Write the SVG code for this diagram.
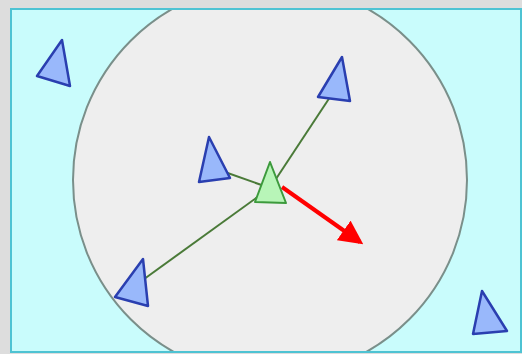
<svg xmlns="http://www.w3.org/2000/svg" width="522" height="354" viewBox="0 0 522 354">
<style>
.boid{fill:#99b8fb;stroke:#2a3fb0;stroke-width:2.5;stroke-linejoin:round}
.self{fill:#b8f5b8;stroke:#3c9a3c;stroke-width:2;stroke-linejoin:round}
.link{stroke:#4a7a38;stroke-width:2;fill:none}
</style>
<defs>
<marker id="ah" markerWidth="6" markerHeight="6" refX="5" refY="3" orient="auto" markerUnits="strokeWidth">
<path d="M0,0 L6,3 L0,6 z" fill="#ff0000"/>
</marker>
</defs>
<rect x="0" y="0" width="522" height="354" fill="#dddddd"/>
<rect x="11" y="9" width="510" height="343" fill="#c9fcfc" stroke="#4ec3d3" stroke-width="2"/>
<clipPath id="c"><rect x="12" y="10" width="508" height="341"/></clipPath>
<circle cx="270" cy="180" r="197" fill="#eeeeee" stroke="#7a8f8a" stroke-width="2" clip-path="url(#c)"/>
<g id="connectors">
<line class="link" x1="270" y1="188" x2="336" y2="88"/>
<line class="link" x1="270" y1="188" x2="222" y2="171"/>
<line class="link" x1="270" y1="188" x2="140" y2="282"/>
<line x1="282" y1="187" x2="360" y2="242" stroke="#ff0000" stroke-width="4" marker-end="url(#ah)"/>
</g>
<g id="boid1"><polygon class="boid" points="62,40 70,86 37,76"/></g>
<g id="boid2"><polygon class="boid" points="342,57 350,101 318,97"/></g>
<g id="boid3"><polygon class="boid" points="209,137 230,178 199,182"/></g>
<g id="boid4"><polygon class="boid" points="143,259 148,306 115,297"/></g>
<g id="boid5"><polygon class="boid" points="482,291 507,331 473,334"/></g>
<g id="self"><polygon class="self" points="270,162 286,203 255,202"/></g>
</svg>
